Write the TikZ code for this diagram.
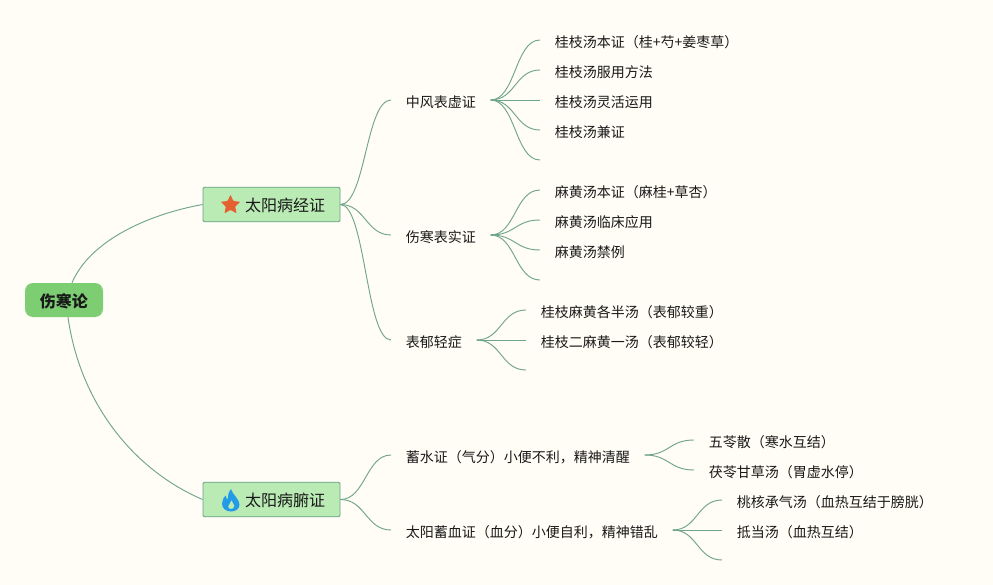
\documentclass[tikz,border=0pt]{standalone}
\usepackage{fontspec}
\setmainfont{Noto Sans CJK SC}
\usetikzlibrary{shapes.geometric}
\definecolor{paper}{RGB}{255,253,245}
\definecolor{rootfill}{RGB}{125,205,115}
\definecolor{mainfill}{RGB}{186,235,180}
\definecolor{mainline}{RGB}{105,160,135}
\definecolor{branchline}{RGB}{112,165,140}
\definecolor{inkcol}{RGB}{25,25,25}
\definecolor{starcol}{RGB}{228,98,50}
\definecolor{flamecol}{RGB}{35,155,230}
\tikzset{
  rootbox/.style={fill=rootfill,rounded corners=6pt,minimum width=58.5pt,minimum height=25.5pt,inner sep=0pt,text=inkcol,text height=11.5pt,text depth=1pt,font=\fontsize{12}{14}\selectfont\bfseries},
  mainbox/.style={draw=mainline,fill=mainfill,line width=0.6pt,rounded corners=1pt,minimum height=26pt,inner xsep=11.25pt,inner ysep=0pt,text=inkcol,text height=11.5pt,text depth=1pt,font=\fontsize{12}{14}\selectfont},
  topic/.style={anchor=west,inner xsep=10.9pt,inner ysep=2pt,text=inkcol,text height=12pt,text depth=1pt,font=\fontsize{10.5}{13}\selectfont},
  branch/.style={draw=branchline,line width=0.7pt},
}
\begin{document}
\begin{tikzpicture}[x=0.75pt,y=0.75pt,yscale=-1,xscale=1]
        \fill[paper] (0,0) rectangle (993,585);
        \useasboundingbox (0,0) rectangle (993,585);

        % centre and the two main topics
        \node[rootbox] (shanghan) at (64,300) {伤寒论};
        \node[mainbox] (jingzheng) at (271.5,204.5) {\hspace{20.25pt}太阳病经证};
        \node[mainbox] (fuzheng) at (271.5,499.5) {\hspace{20.25pt}太阳病腑证};
        \node[star,star points=5,star point ratio=2.1,fill=starcol,inner sep=0pt,minimum size=15.5pt,rounded corners=0.6pt] (xing) at (230.5,205) {};
        \fill[flamecol,even odd rule] (231,489) .. controls (232,494) and (239.5,499) .. (239.5,504.5) .. controls (239.5,509) and (235.5,511.5) .. (231,511.5) .. controls (226,511.5) and (222,508.5) .. (222,503.5) .. controls (222,500) and (224,497.5) .. (225.5,495.5) .. controls (226,497.5) and (226.5,499) .. (228,499.5) .. controls (227.5,496) and (228.5,492) .. (231,489) -- cycle (231.5,500) .. controls (231,503) and (228,504.5) .. (228,506.5) .. controls (228,508) and (229.5,509) .. (231,509) .. controls (232.5,509) and (234.5,508) .. (234.5,506) .. controls (234.5,504) and (232,502.5) .. (231.5,500) -- cycle;

        % second level
        \node[topic] (zhongfeng) at (391,100) {中风表虚证};
        \node[topic] (shanghanbs) at (391,235) {伤寒表实证};
        \node[topic] (biaoyu) at (391,340) {表郁轻症};
        \node[topic] (xushui) at (391,455) {蓄水证（气分）小便不利，精神清醒};
        \node[topic] (xuxue) at (391,530) {太阳蓄血证（血分）小便自利，精神错乱};

        % third level
        \node[topic] (guizhia) at (540,40) {桂枝汤本证（桂+芍+姜枣草）};
        \node[topic] (guizhib) at (540,70) {桂枝汤服用方法};
        \node[topic] (guizhic) at (540,100) {桂枝汤灵活运用};
        \node[topic] (guizhid) at (540,130) {桂枝汤兼证};
        \coordinate (guizhie) at (540,160);
        \node[topic] (mahuanga) at (540,190) {麻黄汤本证（麻桂+草杏）};
        \node[topic] (mahuangb) at (540,220) {麻黄汤临床应用};
        \node[topic] (mahuangc) at (540,250) {麻黄汤禁例};
        \coordinate (mahuangd) at (540,280);
        \node[topic] (gemaa) at (526,310) {桂枝麻黄各半汤（表郁较重）};
        \node[topic] (gemab) at (526,340) {桂枝二麻黄一汤（表郁较轻）};
        \coordinate (gemac) at (526,370);
        \node[topic] (wuling) at (694,440) {五苓散（寒水互结）};
        \node[topic] (fuling) at (694,470) {茯苓甘草汤（胃虚水停）};
        \node[topic] (taohe) at (722,500) {桃核承气汤（血热互结于膀胱）};
        \node[topic] (didang) at (722,530) {抵当汤（血热互结）};
        \coordinate (didangb) at (722,560);

        % connectors
        \draw[branch] (shanghan.north)+(8,0) .. controls +(18,-42) and +(-55,10) .. (jingzheng.west);
        \draw[branch] (shanghan.south)+(4,0) .. controls +(12,85) and +(-70,-30) .. (fuzheng.west);
        \draw[branch] (jingzheng.east) .. controls +(25,0) and +(-25,0) .. (zhongfeng.west);
        \draw[branch] (jingzheng.east) .. controls +(25,0) and +(-25,0) .. (shanghanbs.west);
        \draw[branch] (jingzheng.east) .. controls +(25,0) and +(-25,0) .. (biaoyu.west);
        \draw[branch] (fuzheng.east) .. controls +(25,0) and +(-25,0) .. (xushui.west);
        \draw[branch] (fuzheng.east) .. controls +(25,0) and +(-25,0) .. (xuxue.west);
        \draw[branch] (zhongfeng.east) .. controls +(25,0) and +(-25,0) .. (guizhia.west);
        \draw[branch] (zhongfeng.east) .. controls +(25,0) and +(-25,0) .. (guizhib.west);
        \draw[branch] (zhongfeng.east) .. controls +(25,0) and +(-25,0) .. (guizhic.west);
        \draw[branch] (zhongfeng.east) .. controls +(25,0) and +(-25,0) .. (guizhid.west);
        \draw[branch] (zhongfeng.east) .. controls +(25,0) and +(-25,0) .. (guizhie);
        \draw[branch] (shanghanbs.east) .. controls +(25,0) and +(-25,0) .. (mahuanga.west);
        \draw[branch] (shanghanbs.east) .. controls +(25,0) and +(-25,0) .. (mahuangb.west);
        \draw[branch] (shanghanbs.east) .. controls +(25,0) and +(-25,0) .. (mahuangc.west);
        \draw[branch] (shanghanbs.east) .. controls +(25,0) and +(-25,0) .. (mahuangd);
        \draw[branch] (biaoyu.east) .. controls +(25,0) and +(-25,0) .. (gemaa.west);
        \draw[branch] (biaoyu.east) .. controls +(25,0) and +(-25,0) .. (gemab.west);
        \draw[branch] (biaoyu.east) .. controls +(25,0) and +(-25,0) .. (gemac);
        \draw[branch] (xushui.east) .. controls +(25,0) and +(-25,0) .. (wuling.west);
        \draw[branch] (xushui.east) .. controls +(25,0) and +(-25,0) .. (fuling.west);
        \draw[branch] (xuxue.east) .. controls +(25,0) and +(-25,0) .. (taohe.west);
        \draw[branch] (xuxue.east) .. controls +(25,0) and +(-25,0) .. (didang.west);
        \draw[branch] (xuxue.east) .. controls +(25,0) and +(-25,0) .. (didangb);
    \end{tikzpicture}
\end{document}
